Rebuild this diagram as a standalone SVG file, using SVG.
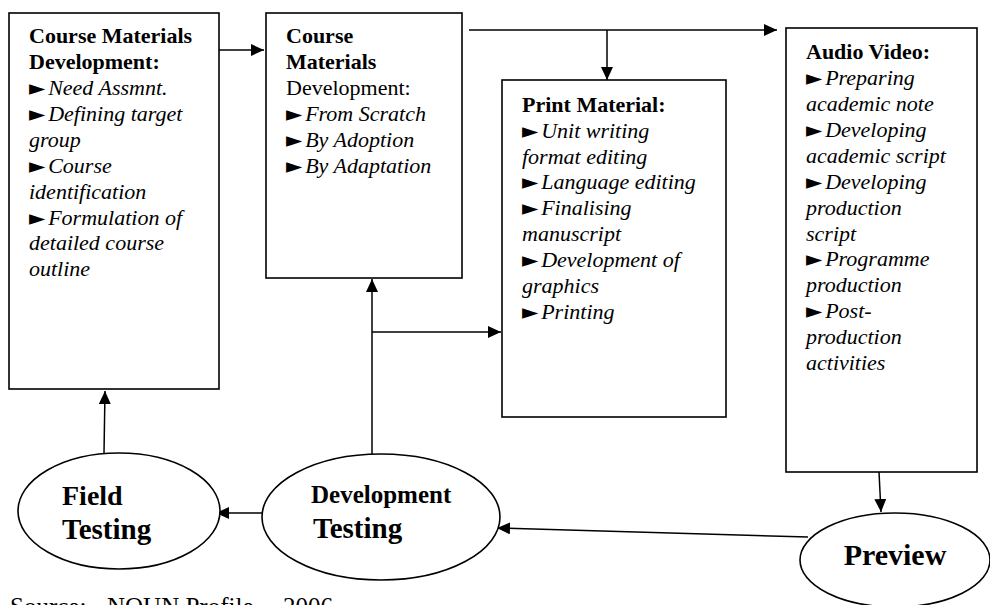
<svg xmlns="http://www.w3.org/2000/svg" width="990" height="605" viewBox="0 0 990 605">
<style>
.box{fill:#fff;stroke:#000;stroke-width:1.6}
.ell{fill:#fff;stroke:#000;stroke-width:1.6}
.t{font-family:"Liberation Serif","Times New Roman",serif;font-size:22px;fill:#000}
.b{font-weight:bold}
.i{font-style:italic}
.m{font-family:"DejaVu Sans",sans-serif;font-style:normal;font-size:21px}
.et{font-family:"Liberation Serif","Times New Roman",serif;font-weight:bold;fill:#000}
.c{fill:none;stroke:#000;stroke-width:1.5}
</style>
<defs>
<marker id="ah" markerUnits="userSpaceOnUse" markerWidth="14" markerHeight="12" refX="13" refY="6" orient="auto">
<path d="M0,0 L13,6 L0,12 z" fill="#000"/>
</marker>
</defs>
<rect width="990" height="605" fill="#fff"/>
<g id="connectors">
<path class="c" d="M217,50 H264" marker-end="url(#ah)"/>
<path class="c" d="M469,30 H777" marker-end="url(#ah)"/>
<path class="c" d="M607,30 V80" marker-end="url(#ah)"/>
<path class="c" d="M372,454 V279" marker-end="url(#ah)"/>
<path class="c" d="M372,332 H501" marker-end="url(#ah)"/>
<path class="c" d="M879,472 L881,512" marker-end="url(#ah)"/>
<path class="c" d="M808,537 L497,528" marker-end="url(#ah)"/>
<path class="c" d="M269,513 H216" marker-end="url(#ah)"/>
<path class="c" d="M104,453 L105,391" marker-end="url(#ah)"/>
</g>
<g id="box1">
<rect class="box" x="9" y="13" width="210" height="376"/>
<text class="t" x="29" y="43.3"><tspan class="b">Course Materials</tspan>
<tspan class="b" x="29" dy="25.9">Development:</tspan>
<tspan x="29" dy="25.9"><tspan class="m">►</tspan><tspan class="i" dx="3">Need Assmnt.</tspan></tspan>
<tspan x="29" dy="25.9"><tspan class="m">►</tspan><tspan class="i" dx="3">Defining target</tspan></tspan>
<tspan class="i" x="29" dy="25.9">group</tspan>
<tspan x="29" dy="25.9"><tspan class="m">►</tspan><tspan class="i" dx="3">Course</tspan></tspan>
<tspan class="i" x="29" dy="25.9">identification</tspan>
<tspan x="29" dy="25.9"><tspan class="m">►</tspan><tspan class="i" dx="3">Formulation of</tspan></tspan>
<tspan class="i" x="29" dy="25.9">detailed course</tspan>
<tspan class="i" x="29" dy="25.9">outline</tspan></text>
</g>
<g id="box2">
<rect class="box" x="266" y="13" width="196" height="265"/>
<text class="t" x="286" y="43.3"><tspan class="b">Course</tspan>
<tspan class="b" x="286" dy="25.9">Materials</tspan>
<tspan x="286" dy="25.9">Development:</tspan>
<tspan x="286" dy="25.9"><tspan class="m">►</tspan><tspan class="i" dx="3">From Scratch</tspan></tspan>
<tspan x="286" dy="25.9"><tspan class="m">►</tspan><tspan class="i" dx="3">By Adoption</tspan></tspan>
<tspan x="286" dy="25.9"><tspan class="m">►</tspan><tspan class="i" dx="3">By Adaptation</tspan></tspan></text>
</g>
<g id="print">
<rect class="box" x="502" y="80" width="224" height="337"/>
<text class="t" x="522" y="111.7"><tspan class="b">Print Material:</tspan>
<tspan x="522" dy="25.9"><tspan class="m">►</tspan><tspan class="i" dx="3">Unit writing</tspan></tspan>
<tspan class="i" x="522" dy="25.9">format editing</tspan>
<tspan x="522" dy="25.9"><tspan class="m">►</tspan><tspan class="i" dx="3">Language editing</tspan></tspan>
<tspan x="522" dy="25.9"><tspan class="m">►</tspan><tspan class="i" dx="3">Finalising</tspan></tspan>
<tspan class="i" x="522" dy="25.9">manuscript</tspan>
<tspan x="522" dy="25.9"><tspan class="m">►</tspan><tspan class="i" dx="3">Development of</tspan></tspan>
<tspan class="i" x="522" dy="25.9">graphics</tspan>
<tspan x="522" dy="25.9"><tspan class="m">►</tspan><tspan class="i" dx="3">Printing</tspan></tspan></text>
</g>
<g id="audiovideo">
<rect class="box" x="786" y="28" width="191" height="444"/>
<text class="t" x="806" y="59.3"><tspan class="b">Audio Video:</tspan>
<tspan x="806" dy="25.9"><tspan class="m">►</tspan><tspan class="i" dx="3">Preparing</tspan></tspan>
<tspan class="i" x="806" dy="25.9">academic note</tspan>
<tspan x="806" dy="25.9"><tspan class="m">►</tspan><tspan class="i" dx="3">Developing</tspan></tspan>
<tspan class="i" x="806" dy="25.9">academic script</tspan>
<tspan x="806" dy="25.9"><tspan class="m">►</tspan><tspan class="i" dx="3">Developing</tspan></tspan>
<tspan class="i" x="806" dy="25.9">production</tspan>
<tspan class="i" x="806" dy="25.9">script</tspan>
<tspan x="806" dy="25.9"><tspan class="m">►</tspan><tspan class="i" dx="3">Programme</tspan></tspan>
<tspan class="i" x="806" dy="25.9">production</tspan>
<tspan x="806" dy="25.9"><tspan class="m">►</tspan><tspan class="i" dx="3">Post-</tspan></tspan>
<tspan class="i" x="806" dy="25.9">production</tspan>
<tspan class="i" x="806" dy="25.9">activities</tspan></text>
</g>
<g id="fieldtesting">
<ellipse class="ell" cx="119" cy="511" rx="101" ry="58"/>
<text class="et" x="62" y="505" font-size="28">Field</text>
<text class="et" x="62" y="539" font-size="29">Testing</text>
</g>
<g id="devtesting">
<ellipse class="ell" cx="381" cy="517" rx="119" ry="63"/>
<text class="et" x="311" y="503" font-size="25">Development</text>
<text class="et" x="313" y="538" font-size="29">Testing</text>
</g>
<g id="preview">
<ellipse class="ell" cx="895" cy="560" rx="95" ry="47"/>
<text class="et" x="895" y="565" font-size="30" text-anchor="middle">Preview</text>
</g>
<g id="source">
<text class="t" y="615" style="font-size:25px"><tspan x="10">Source:</tspan><tspan x="107">NOUN Profile,</tspan><tspan x="283">2006</tspan></text>
</g>
</svg>
